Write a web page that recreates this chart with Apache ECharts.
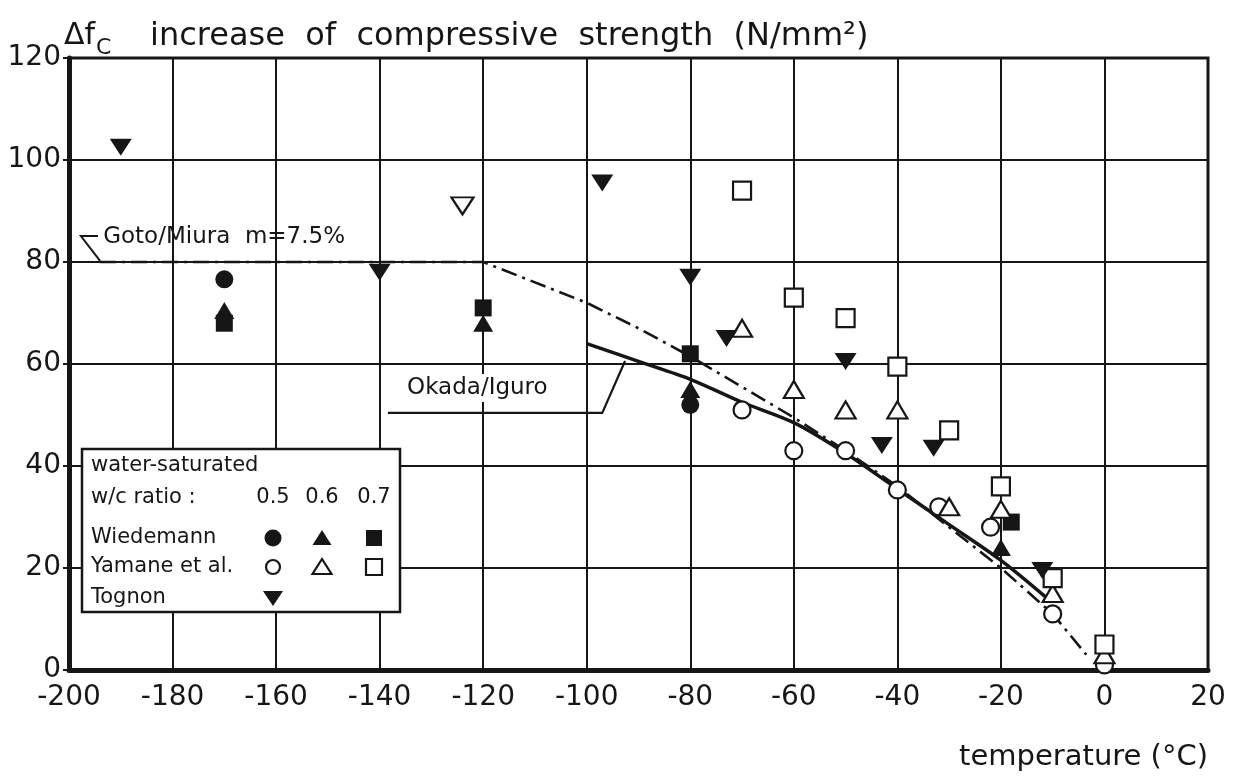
<!DOCTYPE html>
<html><head><meta charset="utf-8">
<script src="https://cdn.jsdelivr.net/npm/echarts@6/dist/echarts.min.js"></script>
<style>html,body{margin:0;padding:0;background:#fff}#c{width:1235px;height:778px}</style>
</head><body><div id="c"></div>
<script>
// ---- axis ticks ----
const xTicks = [-200, -180, -160, -140, -120, -100, -80, -60, -40, -20, 0, 20];
const xTickLabels = ['-200', '-180', '-160', '-140', '-120', '-100', '-80', '-60', '-40', '-20', '0', '20'];
const yTicks = [0, 20, 40, 60, 80, 100, 120];
const yTickLabels = ['0', '20', '40', '60', '80', '100', '120'];

// ---- data: [temperature °C, increase of compressive strength N/mm²] ----
const wiedemann05 = [[-170, 76.6], [-80, 52]];
const wiedemann06 = [[-170, 70.5], [-120, 68], [-80, 55], [-20, 24]];
const wiedemann07 = [[-170, 68], [-120, 71], [-80, 62], [-18, 29]];
const yamane05 = [[-70, 51], [-60, 43], [-50, 43], [-40, 35.3], [-32, 32], [-22, 28], [-10, 11], [0, 1]];
const yamane06 = [[-70, 67], [-60, 55], [-50, 51], [-40, 51], [-30, 32], [-20, 31.5], [-10, 15], [0, 3]];
const yamane07 = [[-70, 94], [-60, 73], [-50, 69], [-40, 59.5], [-30, 47], [-20, 36], [-10, 18], [0, 5]];
const tognon = [[-190, 102.5], [-140, 78], [-97, 95.5], [-80, 77], [-73, 65], [-50, 60.5], [-43, 44], [-33, 43.5], [-12, 19.5]];
const tognonOpen = [[-124, 91]];
const gotoMiura = [[-194, 80], [-120, 80], [-100, 72], [-90, 67], [-80, 61.5], [-70, 55.5], [-60, 49.5], [-50, 43], [-40, 36], [-30, 28], [-20, 20], [-10, 11], [-3.5, 3]];
const okadaIguro = [[-100, 64], [-90, 60.5], [-80, 57], [-70, 52.5], [-60, 48.5], [-50, 42.5], [-40, 35.5], [-30, 28.5], [-20, 21.5], [-11, 14]];

// ---- annotation anchors (data coordinates) ----
const gotoLabelPos = [-193.4, 84.9];
const gotoLeader = [[-194.4, 85.1], [-197.7, 85.1], [-194, 80.2]];
const okadaLabelPos = [-134.7, 55.3];
const okadaLeader = [[-138.4, 50.4], [-97, 50.4], [-92.6, 60.6]];

const INK = '#161616';
const FONT = "'DejaVu Sans', sans-serif";

const chart = echarts.init(document.getElementById('c'), null, { renderer: 'canvas' });

function marks(name, data, symbol, size, rotate, hollow) {
  return {
    name, type: 'scatter', data, symbol, symbolSize: size, symbolRotate: rotate || 0, z: 5,
    itemStyle: hollow ? { color: '#fff', borderColor: INK, borderWidth: 2.2, opacity: 1 } : { color: INK, opacity: 1 }
  };
}

const option = {
  animation: false,
  backgroundColor: '#fff',
  grid: { left: 69, right: 27, top: 58, bottom: 108, show: true, borderColor: INK, borderWidth: 3, backgroundColor: 'transparent' },
  xAxis: {
    type: 'value', min: -200, max: 20, interval: 20,
    axisLine: { show: true, onZero: false, lineStyle: { color: INK, width: 5 } },
    axisTick: { show: false },
    axisLabel: { color: INK, fontSize: 28, fontFamily: FONT, margin: 14,
      formatter: v => xTickLabels[xTicks.indexOf(v)] ?? '' },
    splitLine: { show: true, lineStyle: { color: INK, width: 2 } }
  },
  yAxis: {
    type: 'value', min: 0, max: 120, interval: 20,
    axisLine: { show: true, onZero: false, lineStyle: { color: INK, width: 5 } },
    axisTick: { show: true, length: 6, lineStyle: { color: INK, width: 2 } },
    axisLabel: { color: INK, fontSize: 28, fontFamily: FONT, margin: 8, padding: [6, 0, 0, 0],
      formatter: v => yTickLabels[yTicks.indexOf(v)] ?? '' },
    splitLine: { show: true, lineStyle: { color: INK, width: 2 } }
  },
  series: [
    { name: 'Goto/Miura m=7.5%', type: 'line', data: gotoMiura, showSymbol: false, smooth: false, z: 3,
      lineStyle: { color: INK, width: 2.6, type: [16, 6, 3, 6] } },
    { name: 'Okada/Iguro', type: 'line', data: okadaIguro, showSymbol: false, smooth: 0.3, z: 3,
      lineStyle: { color: INK, width: 3.5 } },
    marks('Wiedemann 0.5', wiedemann05, 'circle', 18),
    marks('Wiedemann 0.6', wiedemann06, 'triangle', [20, 17]),
    marks('Wiedemann 0.7', wiedemann07, 'rect', 17),
    marks('Yamane 0.5', yamane05, 'circle', 17, 0, true),
    marks('Yamane 0.6', yamane06, 'triangle', [20, 17], 0, true),
    marks('Yamane 0.7', yamane07, 'rect', 18, 0, true),
    marks('Tognon', tognon, 'triangle', [22, 17], 180),
    marks('Tognon (open)', tognonOpen, 'triangle', [22, 17], 180, true)
  ]
};
chart.setOption(option);

const P = p => chart.convertToPixel({ gridIndex: 0 }, p);
const txt = (x, y, text, size, extra) => ({
  type: 'text', x, y, z: 20,
  style: Object.assign({ text, fill: INK, font: size + 'px ' + FONT, textVerticalAlign: 'middle' }, extra || {})
});

// legend box geometry (pixels)
const LX = 82, LY = 449, LW = 318, LH = 163;
const colX = [273, 322, 374];
const rowY = { head1: 466, head2: 498, wied: 538, yam: 567, tog: 598 };
const tri = (x, y, down, hollow) => ({
  type: 'polygon', z: 21,
  shape: { points: down ? [[x - 10, y - 7], [x + 10, y - 7], [x, y + 8]] : [[x, y - 8], [x + 9.5, y + 7], [x - 9.5, y + 7]] },
  style: hollow ? { fill: '#fff', stroke: INK, lineWidth: 2.2 } : { fill: INK }
});
const circ = (x, y, hollow) => ({ type: 'circle', z: 21, shape: { cx: x, cy: y, r: hollow ? 7 : 8.5 },
  style: hollow ? { fill: '#fff', stroke: INK, lineWidth: 2.2 } : { fill: INK } });
const sq = (x, y, hollow) => ({ type: 'rect', z: 21, shape: { x: x - 8, y: y - 8, width: 16, height: 16 },
  style: hollow ? { fill: '#fff', stroke: INK, lineWidth: 2.2 } : { fill: INK } });

const gl = P(gotoLabelPos), ol = P(okadaLabelPos);
const graphics = [
  // axis captions
  txt(64, 36, 'Δf', 30),
  txt(96, 48, 'C', 22),
  txt(150, 37, 'increase  of  compressive  strength  (N/mm²)', 32),
  txt(1208, 757, 'temperature (°C)', 29, { textAlign: 'right' }),
  // curve labels
  txt(gl[0], gl[1], 'Goto/Miura  m=7.5%', 23),
  { type: 'polyline', z: 20, shape: { points: gotoLeader.map(P) }, style: { stroke: INK, lineWidth: 2, fill: null } },
  { type: 'rect', z: 19, shape: { x: ol[0] - 4, y: ol[1] - 14, width: 164, height: 28 }, style: { fill: '#fff' } },
  txt(ol[0], ol[1], 'Okada/Iguro', 23),
  { type: 'polyline', z: 20, shape: { points: okadaLeader.map(P) }, style: { stroke: INK, lineWidth: 2.2, fill: null } },
  // legend
  { type: 'rect', z: 19, shape: { x: LX, y: LY, width: LW, height: LH }, style: { fill: '#fff', stroke: INK, lineWidth: 2.5 } },
  txt(91, rowY.head1, 'water-saturated', 21),
  txt(91, rowY.head2, 'w/c ratio :', 21),
  txt(colX[0], rowY.head2, '0.5', 21, { textAlign: 'center' }),
  txt(colX[1], rowY.head2, '0.6', 21, { textAlign: 'center' }),
  txt(colX[2], rowY.head2, '0.7', 21, { textAlign: 'center' }),
  txt(91, rowY.wied, 'Wiedemann', 21),
  txt(91, rowY.yam, 'Yamane et al.', 21),
  txt(91, rowY.tog, 'Tognon', 21),
  circ(colX[0], rowY.wied), tri(colX[1], rowY.wied), sq(colX[2], rowY.wied),
  circ(colX[0], rowY.yam, true), tri(colX[1], rowY.yam, false, true), sq(colX[2], rowY.yam, true),
  tri(colX[0], rowY.tog, true)
];
chart.setOption({ graphic: graphics });
</script></body></html>
